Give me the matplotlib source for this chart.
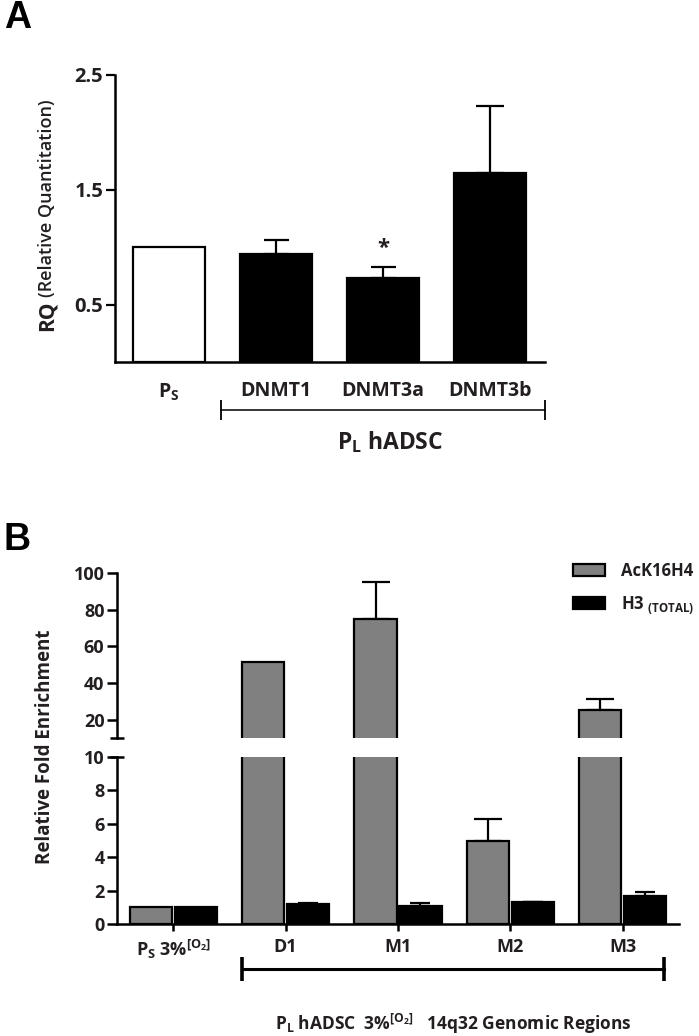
import matplotlib
matplotlib.use("Agg")
import matplotlib.pyplot as plt
import matplotlib.transforms as mtransforms
from matplotlib.patches import Patch
import numpy as np

plt.rcParams['font.family'] = ['Open Sans', 'DejaVu Sans']
plt.rcParams['font.weight'] = 'bold'
plt.rcParams['mathtext.fontset'] = 'custom'
plt.rcParams['mathtext.rm'] = 'Open Sans:bold'
plt.rcParams['mathtext.bf'] = 'Open Sans:bold'
plt.rcParams['mathtext.it'] = 'Open Sans:bold'
plt.rcParams['mathtext.sf'] = 'Open Sans:bold'

TXT = '#231f20'

# ---------------- Data ----------------
# Panel A
a_labels = [r'P$_\mathregular{S}$', 'DNMT1', 'DNMT3a', 'DNMT3b']
a_values = [1.0, 0.94, 0.73, 1.65]
a_errors = [0.0, 0.12, 0.10, 0.58]
a_colors = ['white', 'black', 'black', 'black']
a_yticks = [0.5, 1.5, 2.5]

# Panel B
b_labels = [r'P$_\mathregular{S}$ 3%$^{\mathregular{[O_2]}}$', 'D1', 'M1', 'M2', 'M3']
b_ack16h4 = [1.0, 51.5, 75.0, 5.0, 25.3]
b_ack16h4_err = [0.0, 0.0, 20.0, 1.3, 6.0]
b_h3 = [1.0, 1.2, 1.1, 1.32, 1.68]
b_h3_err = [0.0, 0.03, 0.15, 0.02, 0.25]
b_series = ['AcK16H4', r'H3 $_{\mathregular{(TOTAL)}}$']
b_low_ticks = [0, 2, 4, 6, 8, 10]
b_high_ticks = [20, 40, 60, 80, 100]

W, H = 699, 1036
fig = plt.figure(figsize=(W / 100, H / 100), dpi=100)

def fx(px):
    return px / W

def fy(py):
    return 1 - py / H

# ---------------- Panel A ----------------
axA = fig.add_axes([fx(115), fy(362), fx(545) - fx(115), fy(75) - fy(362)])
xa = np.arange(len(a_values))
axA.bar(xa, a_values, width=0.67, color=a_colors, edgecolor='black', linewidth=1.6, zorder=3)
for x, v, e in zip(xa, a_values, a_errors):
    if e > 0:
        axA.errorbar(x, v, yerr=[[0], [e]], fmt='none', ecolor='black',
                     elinewidth=1.6, capsize=10 if e > 0.3 else 9, capthick=1.6, zorder=2)
axA.set_xlim(-0.5, 3.51)
axA.set_ylim(0, 2.5)
axA.set_yticks(a_yticks)
axA.set_yticklabels([f'{t:.1f}' for t in a_yticks], fontsize=14.5, color=TXT, fontweight='bold')
axA.set_xticks(xa)
axA.set_xticklabels(a_labels, fontsize=14, color=TXT, fontweight='bold')
axA.tick_params(axis='x', length=0, pad=14)
axA.tick_params(axis='y', length=6.5, width=1.6, pad=2, direction='out')
for s in ['top', 'right']:
    axA.spines[s].set_visible(False)
for s in ['left', 'bottom']:
    axA.spines[s].set_linewidth(1.8)
axA.text(2, 0.99, '*', ha='center', va='center', fontsize=16, color=TXT, fontweight='bold')

transA = mtransforms.blended_transform_factory(axA.transData, axA.transAxes)
axA.plot([0.49, 3.51], [-0.167, -0.167], transform=transA, color='black', lw=1.1,
         clip_on=False, marker='|', markersize=14, markeredgewidth=1.3)
axA.text(2.07, -0.279, r'P$_\mathregular{L}$ hADSC', transform=transA, ha='center',
         va='center', fontsize=16.5, color=TXT, fontweight='bold')

fig.text(fx(47), fy(316), 'RQ', rotation=90, ha='center', va='center',
         fontsize=15, color=TXT, fontweight='bold')
fig.text(fx(47), fy(198), '(Relative Quantitation)', rotation=90, ha='center', va='center',
         fontsize=13, color=TXT, fontweight='semibold')

fig.text(fx(4), fy(18), 'A', fontsize=27, fontweight='bold', color='black',
         family=['Liberation Sans', 'DejaVu Sans'], ha='left', va='center')
fig.text(fx(4), fy(540), 'B', fontsize=27, fontweight='bold', color='black',
         family=['Liberation Sans', 'DejaVu Sans'], ha='left', va='center')

# ---------------- Panel B ----------------
axL = fig.add_axes([fx(117), fy(924), fx(679) - fx(117), fy(757) - fy(924)])
axU = fig.add_axes([fx(117), fy(738), fx(679) - fx(117), fy(573) - fy(738)], sharex=axL)
xb = np.arange(len(b_ack16h4))
off = 0.2
bw = 0.375
for ax in (axL, axU):
    ax.bar(xb - off, b_ack16h4, width=bw, color='#808080', edgecolor='black', linewidth=1.6, zorder=3)
    ax.bar(xb + off, b_h3, width=bw, color='black', edgecolor='black', linewidth=1.6, zorder=3)
    for x, v, e in zip(xb, b_ack16h4, b_ack16h4_err):
        if e > 0:
            ax.errorbar(x - off, v, yerr=[[0], [e]], fmt='none', ecolor='black',
                        elinewidth=1.6, capsize=10, capthick=1.6, zorder=2)
    for x, v, e in zip(xb, b_h3, b_h3_err):
        if e > 0:
            ax.errorbar(x + off, v, yerr=[[0], [e]], fmt='none', ecolor='black',
                        elinewidth=1.6, capsize=7, capthick=1.6, zorder=2)
    for s in ['top', 'right']:
        ax.spines[s].set_visible(False)
    ax.spines['left'].set_linewidth(1.8)

axL.set_xlim(-0.5, 4.5)
axL.set_ylim(0, 10)
axU.set_ylim(10, 100)
axL.spines['bottom'].set_linewidth(1.8)
axU.spines['bottom'].set_visible(False)
axL.set_yticks(b_low_ticks)
axL.set_yticklabels([str(t) for t in b_low_ticks], fontsize=13, color=TXT, fontweight='bold')
axU.set_yticks(b_high_ticks)
axU.set_yticklabels([str(t) for t in b_high_ticks], fontsize=13, color=TXT, fontweight='bold')
axL.set_xticks(xb)
axL.set_xticklabels(b_labels, fontsize=13, color=TXT, fontweight='bold')
axU.tick_params(axis='x', bottom=False, labelbottom=False)
axL.tick_params(axis='x', length=5, width=1.8, pad=5, direction='out')
for ax in (axL, axU):
    ax.tick_params(axis='y', length=7.5, width=1.8, pad=1.5, direction='out')

# break marks
tU = mtransforms.blended_transform_factory(axU.transAxes, axU.transData)
tL = mtransforms.blended_transform_factory(axL.transAxes, axL.transData)
axU.plot([-0.013, 0.012], [10, 10], transform=tU, color='black', lw=1.8, clip_on=False,
         solid_capstyle='butt')
axL.plot([-0.013, 0.012], [10, 10], transform=tL, color='black', lw=1.8, clip_on=False,
         solid_capstyle='butt')

# group bracket
transB = mtransforms.blended_transform_factory(axL.transData, axL.transAxes)
axL.plot([0.61, 4.37], [-0.27, -0.27], transform=transB, color='black', lw=2.2,
         clip_on=False, marker='|', markersize=17, markeredgewidth=2.6)
fig.text(fx(453), fy(1024), r'P$_\mathregular{L}$ hADSC  3%$^{\mathregular{[O_2]}}$   14q32 Genomic Regions',
         ha='center', va='center', fontsize=12.5, color=TXT, fontweight='bold')

fig.text(fx(45), fy(747), 'Relative Fold Enrichment', rotation=90, ha='center', va='center',
         fontsize=13.5, color=TXT, fontweight='bold')

handles = [Patch(facecolor='#808080', edgecolor='black', linewidth=1.6),
           Patch(facecolor='black', edgecolor='black', linewidth=1.6)]
fig.legend(handles, b_series, loc='upper left', bbox_to_anchor=(fx(573), fy(562)),
           frameon=False, borderpad=0, borderaxespad=0, handlelength=1.9, handleheight=0.75,
           handletextpad=1.0, labelspacing=0.85, prop={'size': 12, 'weight': 'bold'},
           labelcolor=TXT)

fig.savefig('out.png', dpi=100)
